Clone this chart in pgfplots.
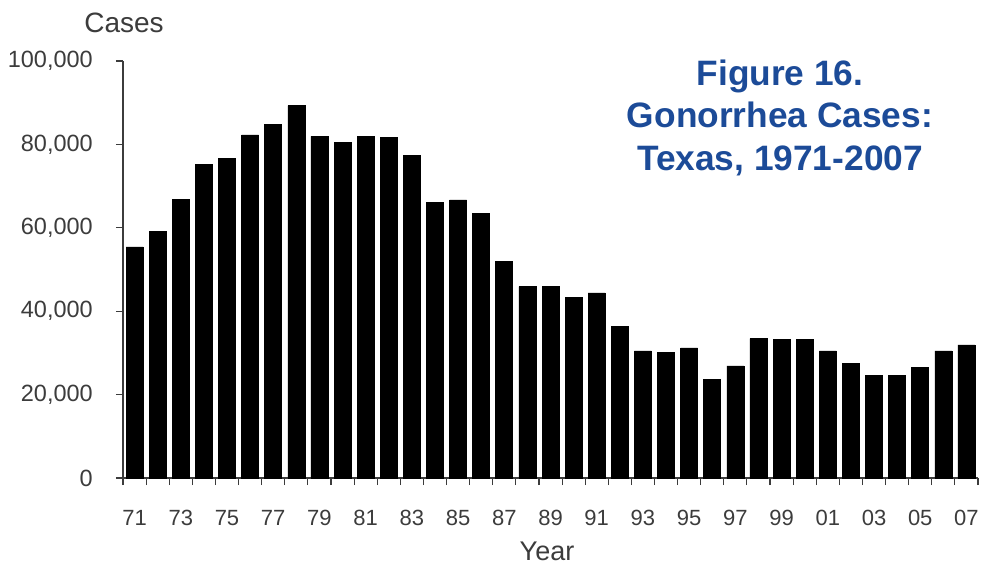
\documentclass[border=0pt]{standalone}
\usepackage{fontspec}
\setmainfont{Liberation Sans}
\usepackage{pgfplots}
\pgfplotsset{compat=1.18}

\definecolor{titleblue}{HTML}{1C4B98}
\definecolor{txtgray}{HTML}{3C3C3C}

% Texas gonorrhea cases, 1971-2007 (index 0 = 1971)
\pgfplotstableread{
idx cases
0  55400
1  59100
2  66900
3  75200
4  76600
5  82300
6  84800
7  89300
8  81900
9  80500
10 81900
11 81700
12 77300
13 66100
14 66700
15 63500
16 52000
17 45900
18 45900
19 43400
20 44400
21 36300
22 30500
23 30200
24 31200
25 23700
26 26900
27 33400
28 33200
29 33200
30 30500
31 27500
32 24600
33 24600
34 26500
35 30500
36 31900
}\cases

\begin{document}
\begin{tikzpicture}
\path[use as bounding box] (0,0) rectangle (981pt,565pt);
\begin{axis}[
    at={(123pt,87pt)}, anchor=south west,
    scale only axis,
    width=855pt, height=417pt,
    ybar, bar width=17pt, bar shift=0pt,
    xmin=-0.5, xmax=36.5,
    ymin=0, ymax=100000,
    axis x line*=bottom, axis y line*=left,
    axis line style={txtgray, line width=1.3pt, -},
    tick style={txtgray, line width=1.1pt},
    tick align=outside,
    xtick={0,2,...,36},
    xticklabels={71,73,75,77,79,81,83,85,87,89,91,93,95,97,99,01,03,05,07},
    major x tick style={draw=none},
    minor xtick={-0.5,0.5,...,36.5},
    minor tick length=7pt,
    ytick={0,20000,...,100000},
    major tick length=7pt,
    scaled y ticks=false,
    /pgf/number format/.cd, fixed, 1000 sep={,}, assume math mode=true,
    /pgfplots/.cd,
    ticklabel style={text=txtgray},
    xticklabel style={font=\fontsize{22}{24}\selectfont, anchor=base, inner sep=0pt, yshift=-40pt},
    yticklabel style={font=\fontsize{23.5}{25}\selectfont, anchor=east, inner sep=0pt, xshift=-23pt},
    clip=false,
]
\addplot[fill=black, draw=black, line width=0.6pt] table[x=idx, y=cases] {\cases};
\end{axis}

\node[anchor=base, text=txtgray, font=\fontsize{28}{30}\selectfont] at (124pt,532pt) {Cases};
\node[anchor=base, text=txtgray, font=\fontsize{27}{30}\selectfont] at (547pt,5pt) {Year};

\begin{scope}[every node/.style={anchor=base, text=titleblue, font=\fontsize{35.3}{40}\bfseries}]
\node at (780pt,479pt) {Figure 16.};
\node at (780pt,437pt) {Gonorrhea Cases:};
\node at (780pt,394pt) {Texas, 1971-2007};
\end{scope}
\end{tikzpicture}
\end{document}
